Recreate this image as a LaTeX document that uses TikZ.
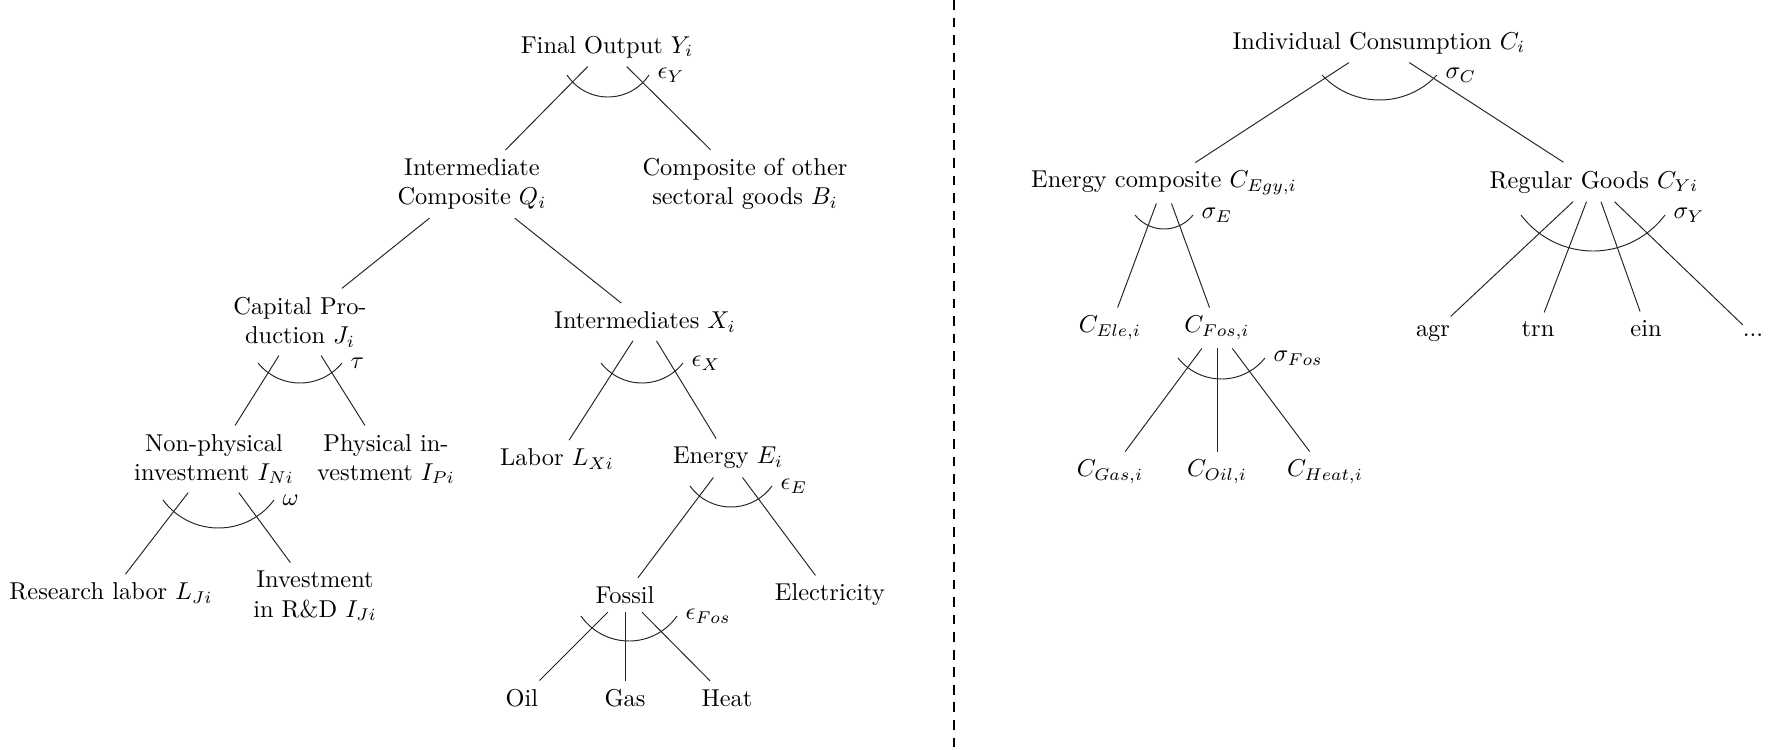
\documentclass[tikz,border=0pt]{standalone}
\begin{document}
\begin{tikzpicture}[x=0.41pt,y=0.41pt,
  tn/.style={align=center},
  leaf/.style={anchor=base},
  edge/.style={draw=black!85, line width=0.4pt},
  elas/.style={draw=black!85, line width=0.4pt},
  lab/.style={right},
  divider/.style={draw=black, line width=0.9pt, dash pattern=on 4pt off 3.2pt}]
\useasboundingbox (0,0) rectangle (1775,-749);
\newcommand{\elasarc}[6]{\draw[elas] (#1,#2) ++(-90-#4:#3) arc (-90-#4:-90+#4:#3) node[lab] (#5) {#6};}

% ---------- left tree ----------
\node[tn] (Y) at (607,-47) {Final Output $Y_i$};
\node[tn] (Q) at (472,-184) {Intermediate\\Composite $Q_i$};
\node[tn] (B) at (745,-184) {Composite of other\\sectoral goods $B_i$};
\node[tn] (J) at (300,-322) {Capital Pro-\\duction $J_i$};
\node[tn] (X) at (645,-322) {Intermediates $X_i$};
\node[tn] (IN) at (214,-459) {Non-physical\\investment $I_{Ni}$};
\node[tn] (IP) at (386,-459) {Physical in-\\vestment $I_{Pi}$};
\node[tn] (LX) at (557,-459) {Labor $L_{Xi}$};
\node[tn] (E) at (728,-458) {Energy $E_i$};
\node[tn] (LJ) at (111,-593) {Research labor $L_{Ji}$};
\node[tn] (IJ) at (315,-596) {Investment\\in R\&D $I_{Ji}$};
\node[tn] (Fos) at (625,-595) {Fossil};
\node[tn] (Ele) at (830,-595) {Electricity};
\node[tn] (Oil) at (522,-698) {Oil};
\node[tn] (Gas) at (625,-698) {Gas};
\node[tn] (Heat) at (727,-698) {Heat};

\draw[edge] (Y) -- (Q);
\draw[edge] (Y) -- (B);
\draw[edge] (Q) -- (J);
\draw[edge] (Q) -- (X);
\draw[edge] (J) -- (IN);
\draw[edge] (J) -- (IP);
\draw[edge] (X) -- (LX);
\draw[edge] (X) -- (E);
\draw[edge] (IN) -- (LJ);
\draw[edge] (IN) -- (IJ);
\draw[edge] (E) -- (Fos);
\draw[edge] (E) -- (Ele);
\draw[edge] (Fos) -- (Oil);
\draw[edge] (Fos) -- (Gas);
\draw[edge] (Fos) -- (Heat);

\elasarc{608}{-47.8}{49.2}{56.4}{lY}{$\epsilon_Y$}
\elasarc{300}{-328.9}{54.1}{50.9}{lJ}{$\tau$}
\elasarc{642}{-331}{52}{52}{lX}{$\epsilon_X$}
\elasarc{218.5}{-459}{69}{53.6}{lN}{$\omega$}
\elasarc{731}{-456.5}{50.5}{54.3}{lE}{$\epsilon_E$}
\elasarc{629}{-582.4}{58.6}{55}{lF}{$\epsilon_{Fos}$}

% ---------- divider ----------
\coordinate (dtop) at (954,0);
\coordinate (dbot) at (954,-749);
\draw[divider] (dtop) -- (dbot);

% ---------- right tree ----------
\node[tn] (C) at (1379,-43) {Individual Consumption $C_i$};
\node[tn] (Egy) at (1164,-183) {Energy composite $C_{Egy,i}$};
\node[tn] (CY) at (1594,-182) {Regular Goods $C_{Yi}$};
\node[tn] (CEle) at (1110,-328) {$C_{Ele,i}$};
\node[tn] (CFos) at (1217,-328) {$C_{Fos,i}$};
\node[tn] (CGas) at (1110,-472) {$C_{Gas,i}$};
\node[tn] (COil) at (1217,-472) {$C_{Oil,i}$};
\node[tn] (CHeat) at (1325,-472) {$C_{Heat,i}$};
\node[leaf] (agr) at (1433,-336) {agr};
\node[leaf] (trn) at (1538,-336) {trn};
\node[leaf] (ein) at (1646,-336) {ein};
\node[leaf] (dots) at (1753,-336) {...};

\draw[edge] (C) -- (Egy);
\draw[edge] (C) -- (CY);
\draw[edge] (Egy) -- (CEle);
\draw[edge] (Egy) -- (CFos);
\draw[edge] (CFos) -- (CGas);
\draw[edge] (CFos) -- (COil);
\draw[edge] (CFos) -- (CHeat);
\draw[edge] (CY) -- (agr);
\draw[edge] (CY) -- (trn);
\draw[edge] (CY) -- (ein);
\draw[edge] (CY) -- (dots);

\elasarc{1379.5}{-21.4}{78.6}{47}{lC}{$\sigma_C$}
\elasarc{1164}{-192}{37}{51.6}{lEg}{$\sigma_E$}
\elasarc{1593}{-161}{90}{53.1}{lY2}{$\sigma_Y$}
\elasarc{1221.5}{-323.5}{55.5}{51.6}{lFo}{$\sigma_{Fos}$}
\end{tikzpicture}
\end{document}
